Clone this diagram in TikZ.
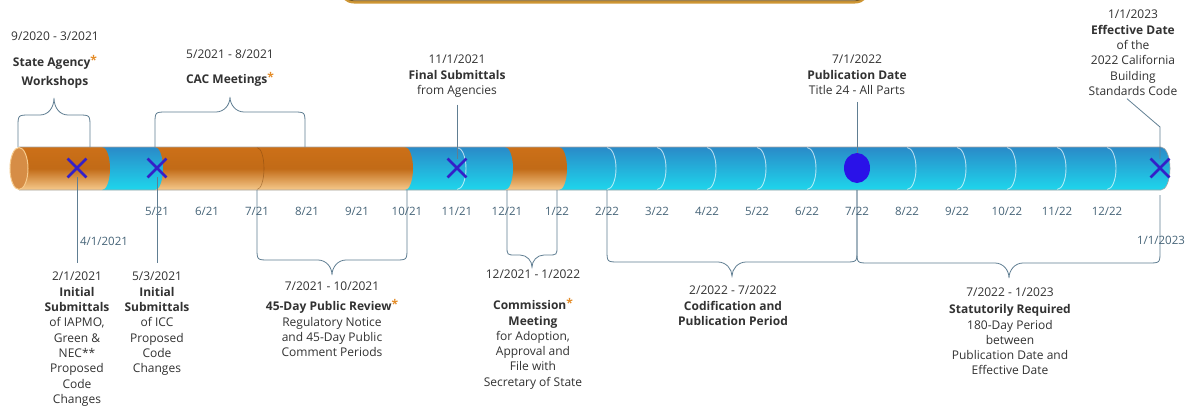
\documentclass[tikz,border=0pt]{standalone}
\usepackage{fontspec}
\setmainfont{Open Sans}
\usepackage{tikz}
\usetikzlibrary{positioning, shapes.misc, shapes.geometric}
\definecolor{tubeorange}{RGB}{204,112,24}
\definecolor{tubeorangelight}{RGB}{246,202,140}
\definecolor{tubeblue}{RGB}{42,138,200}
\definecolor{tubecyan}{RGB}{30,214,236}
\definecolor{markblue}{RGB}{52,32,200}
\definecolor{dotblue}{RGB}{42,18,232}
\definecolor{linegray}{RGB}{96,126,146}
\definecolor{txtgray}{RGB}{50,50,50}
\definecolor{monthgray}{RGB}{70,100,120}
\definecolor{staror}{RGB}{228,140,40}
\definecolor{frameor}{RGB}{206,150,52}
\newcommand{\revstar}{{\color{staror}\raisebox{2.5pt}{\textbf{*}}}}

\begin{document}
\begin{tikzpicture}[x=1pt, y=-1pt,
    lbl/.style={align=center, font=\fontsize{12}{15.3}\selectfont, text=txtgray, inner sep=0pt},
    month/.style={font=\fontsize{11.5}{13}\selectfont, text=monthgray, inner sep=0pt},
    xmark/.style={cross out, draw=markblue, line width=2.8pt, minimum size=16pt, inner sep=0pt},
    pubdot/.style={ellipse, fill=dotblue, minimum width=26pt, minimum height=30pt, inner sep=0pt},
    conn/.style={draw=linegray, line width=0.8pt},
    curly/.style={draw=linegray, line width=0.8pt},
    orseg/.style={top color=tubeorange, bottom color=tubeorangelight, middle color=tubeorange!95!black},
    blseg/.style={top color=tubeblue, bottom color=tubecyan},
    monthcut/.style={draw=white, opacity=0.65, line width=0.9pt},
]
    \fill[white] (0,0) rectangle (1186,407);
    \useasboundingbox (0,0) rectangle (1186,407);

    % frame at the top, mostly cut off
    \begin{scope}
        \clip (0,0) rectangle (1186,407);
        \draw[frameor, line width=3pt, rounded corners=14pt] (340,-40) rectangle (869,2);
        \draw[frameor!55!black, line width=0.7pt, rounded corners=12pt] (341.5,-40) rectangle (867.5,0.8);
    \end{scope}

    % timeline tube, right to left
    \path[blseg] (559,147) -- (1161,147) arc[start angle=-90, end angle=90, x radius=9, y radius=21.5] -- (559,190) -- cycle;
    \path[orseg] (505,147) -- (559,147) arc[start angle=-90, end angle=90, x radius=8, y radius=21.5] -- (505,190) -- cycle;
    \path[blseg] (405,147) -- (505,147) arc[start angle=-90, end angle=90, x radius=8, y radius=21.5] -- (405,190) -- cycle;
    \path[orseg] (155,147) -- (405,147) arc[start angle=-90, end angle=90, x radius=8, y radius=21.5] -- (155,190) -- cycle;
    \path[blseg] (102,147) -- (155,147) arc[start angle=-90, end angle=90, x radius=8, y radius=21.5] -- (102,190) -- cycle;
    \path[orseg] (19,147) -- (102,147) arc[start angle=-90, end angle=90, x radius=8, y radius=21.5] -- (19,190) -- cycle;
    \foreach \bx in {457,607,657,707,757,807,907,957,1007,1057,1107}
        \draw[monthcut] (\bx,147.5) arc[start angle=-90, end angle=90, x radius=9, y radius=21];
    \draw[tubeorange!60!black, opacity=0.5, line width=0.6pt] (257,147.5) arc[start angle=-90, end angle=90, x radius=7, y radius=21];
    \draw[gray!70, line width=0.6pt] (19,147) -- (1161,147) arc[start angle=-90, end angle=90, x radius=9, y radius=21.5] -- (19,190);
    \draw[draw=tubeorangelight, fill=tubeorange!80!white, line width=1pt] (19,168.5) ellipse [x radius=9, y radius=21];

    % markers
    \node[xmark] (xiapmo) at (77,168) {};
    \node[xmark] (xicc) at (157,168) {};
    \node[xmark] (xfinal) at (457,168) {};
    \node[pubdot] (dpub) at (857,168) {};
    \node[xmark] (xeff) at (1160,168) {};

    % braces
    \draw[curly] (18,147) -- (18,127) .. controls (18,115) .. (30,115) -- (40,115) .. controls (48,115) and (54,108) .. (54,98) .. controls (54,108) and (60,115) .. (68,115) -- (78,115) .. controls (90,115) .. (90,127) -- (90,147);
    \draw[curly] (155,147) -- (155,124) .. controls (155,112) .. (167,112) -- (216,112) .. controls (224,112) and (230,105) .. (230,97) .. controls (230,105) and (236,112) .. (244,112) -- (293,112) .. controls (305,112) .. (305,124) -- (305,147);
    \draw[curly] (257,190) -- (257,248) .. controls (257,260) .. (269,260) -- (318,260) .. controls (326,260) and (332,267) .. (332,275) .. controls (332,267) and (338,260) .. (346,260) -- (395,260) .. controls (407,260) .. (407,248) -- (407,190);
    \draw[curly] (507,190) -- (507,246) .. controls (507,255) .. (516,255) -- (520,255) .. controls (527,255) and (532,261) .. (532,267) .. controls (532,261) and (537,255) .. (544,255) -- (548,255) .. controls (557,255) .. (557,246) -- (557,190);
    \draw[curly] (607,190) -- (607,250) .. controls (607,262) .. (619,262) -- (718,262) .. controls (726,262) and (732,269) .. (732,276) .. controls (732,269) and (738,262) .. (746,262) -- (845,262) .. controls (857,262) .. (857,250) -- (857,190);
    \draw[curly] (857,190) -- (857,251) .. controls (857,263) .. (869,263) -- (995,263) .. controls (1003,263) and (1009,270) .. (1009,278) .. controls (1009,270) and (1015,263) .. (1023,263) -- (1148,263) .. controls (1160,263) .. (1160,251) -- (1160,195);

    % month labels
    \foreach \mo/\yr [count=\k from 0] in {5/21,6/21,7/21,8/21,9/21,10/21,11/21,12/21,1/22,2/22,3/22,4/22,5/22,6/22,7/22,8/22,9/22,10/22,11/22,12/22}
        \node[month] (m\k) at (157+50*\k,211) {\mo/\yr};
    \node[month] (apr) at (104,241) {4/1/2021};
    \node[month] (jan) at (1161,240) {1/1/2023};

    % texts above the tube
    \node[lbl, anchor=north] (agency) at (55,32) {9/2020 - 3/2021\\[10.5pt]\textbf{State Agency}\revstar\\[3.5pt]\textbf{Workshops}};
    \node[lbl, anchor=north] (cac) at (230,50) {5/2021 - 8/2021\\[9.5pt]\textbf{CAC Meetings}\revstar};
    \node[lbl, anchor=north] (final) at (457,55) {11/1/2021\\\textbf{Final Submittals}\\from Agencies};
    \node[lbl, anchor=north] (pub) at (857,55) {7/1/2022\\\textbf{Publication Date}\\Title 24 - All Parts};
    \node[lbl, anchor=north] (eff) at (1133,10) {1/1/2023\\\textbf{Effective Date}\\of the\\2022 California\\Building\\Standards Code};

    % texts below the tube
    \node[lbl, anchor=north] (tiapmo) at (77,272) {2/1/2021\\\textbf{Initial}\\\textbf{Submittals}\\of IAPMO,\\Green \&\\NEC**\\Proposed\\Code\\Changes};
    \node[lbl, anchor=north] (ticc) at (157,272) {5/3/2021\\\textbf{Initial}\\\textbf{Submittals}\\of ICC\\Proposed\\Code\\Changes};
    \node[lbl, anchor=north] (review) at (332,282) {7/2021 - 10/2021\\[4.7pt]\textbf{45-Day Public Review}\revstar\\Regulatory Notice\\and 45-Day Public\\Comment Periods};
    \node[lbl, anchor=north] (commission) at (533,270) {12/2021 - 1/2022\\[15.5pt]\textbf{Commission}\revstar\\\textbf{Meeting}\\for Adoption,\\Approval and\\File with\\Secretary of State};
    \node[lbl, anchor=north] (codif) at (733,286) {2/2022 - 7/2022\\\textbf{Codification and}\\\textbf{Publication Period}};
    \node[lbl, anchor=north] (statut) at (1010,288) {7/2022 - 1/2023\\[1.5pt]\textbf{Statutorily Required}\\180-Day Period\\between\\Publication Date and\\Effective Date};

    % connectors
    \draw[conn, shorten <=7pt] (final) -- (xfinal);
    \draw[conn, shorten <=7pt] (pub) -- (dpub);
    \coordinate (effkink) at (1160,127);
    \draw[conn] ([shift={(-6pt,-3pt)}]eff.south) -- (effkink) -- (xeff);
    \draw[conn, shorten >=9pt] (xiapmo) -- (tiapmo);
    \draw[conn, shorten >=9pt] (xicc) -- (ticc);
\end{tikzpicture}
\end{document}
